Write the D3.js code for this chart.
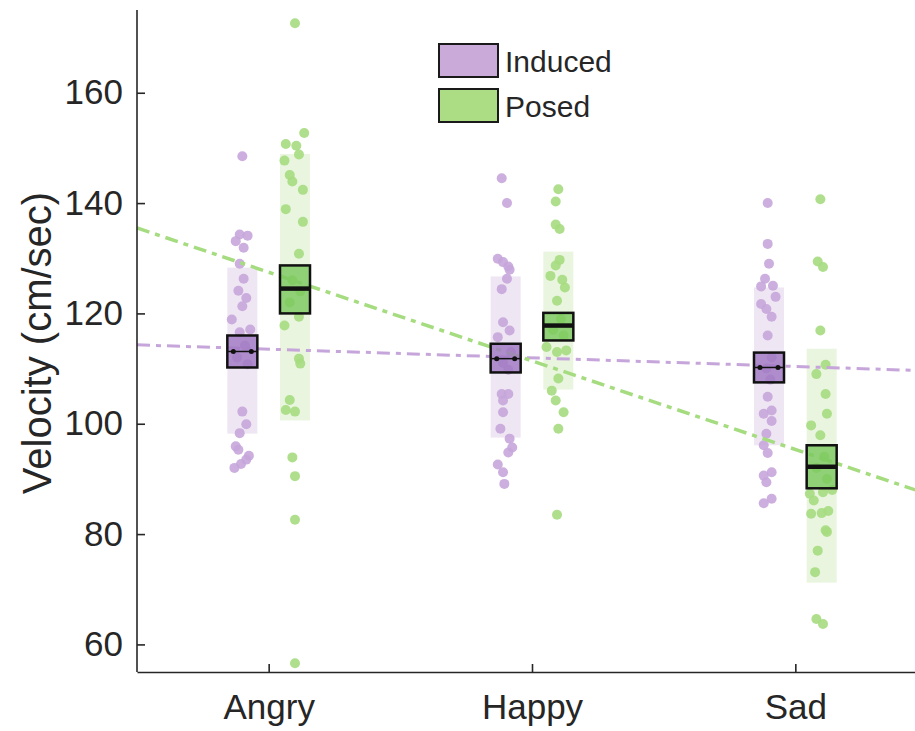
<!DOCTYPE html>
<meta charset="utf-8">
<style>
body { margin: 0; background: #fff; }
text { font-family: "Liberation Sans", Arial, sans-serif; fill: #262626; }
.axis path, .axis line { stroke: #262626; stroke-width: 1.6px; }
</style>
<body>
<script src="https://d3js.org/d3.v7.min.js"></script>
<script>

var categories = ["Angry", "Happy", "Sad"];
var conditions = ["Induced", "Posed"];
var yTicks = [60, 80, 100, 120, 140, 160];

// means, SEM boxes and SD bands per category
var inducedMean = [113.1, 111.8, 110.2];
var inducedSem = [[110.2, 116.0], [109.3, 114.5], [107.5, 112.9]];
var inducedSd = [[98.2, 128.3], [97.5, 126.7], [96.1, 124.7]];
var posedMean = [124.5, 117.8, 92.2];
var posedSem = [[120.0, 128.7], [115.1, 120.1], [88.3, 96.1]];
var posedSd = [[100.6, 148.9], [106.2, 131.2], [71.2, 113.6]];

// linear fits: value at x = 0.5 and x = 3.5
var inducedFit = [114.3, 109.6];
var posedFit = [135.5, 87.3];

// individual points: [jitter, velocity]
var inducedPoints = [
  [[0, 148.5], [-0.01, 134.3], [0.02, 134.1], [-0.025, 133.1], [0.005, 131.9], [-0.01, 129.0],
   [0.005, 126.3], [-0.015, 124.1], [0.015, 122.8], [0, 121.3], [-0.04, 118.9], [0.03, 117.1],
   [-0.01, 116.6], [0.01, 114.2], [-0.02, 112.0], [0.02, 110.8], [0, 102.2], [0.015, 99.9],
   [-0.01, 98.3], [-0.025, 95.9], [-0.015, 95.3], [0.025, 94.2], [0.015, 93.5], [-0.005, 92.7],
   [-0.03, 92.0]],
  [[-0.015, 144.5], [0.005, 140.0], [-0.03, 129.9], [-0.01, 129.3], [0.01, 128.5], [0.015, 127.9],
   [0.005, 126.3], [-0.015, 124.4], [-0.01, 118.4], [0.015, 116.9], [-0.03, 115.7], [0.02, 113.0],
   [-0.01, 111.0], [0.01, 109.8], [-0.015, 105.4], [0.01, 105.4], [-0.01, 104.2], [-0.01, 102.1],
   [-0.02, 99.1], [0.015, 97.3], [0.025, 95.7], [0.01, 94.8], [-0.03, 92.6], [-0.01, 91.2],
   [-0.005, 89.1]],
  [[-0.005, 140.0], [-0.005, 132.6], [0, 129.0], [-0.015, 126.3], [-0.03, 124.9], [0.015, 125.0],
   [0.025, 123.0], [-0.03, 121.7], [-0.01, 120.8], [0.01, 119.4], [-0.005, 116.0], [0.01, 112.0],
   [-0.01, 110.0], [0.005, 108.0], [-0.005, 104.9], [0.01, 102.4], [-0.02, 101.8], [0.01, 100.5],
   [-0.01, 98.2], [-0.02, 96.1], [-0.005, 94.7], [0.01, 91.2], [-0.02, 90.6], [-0.01, 89.4],
   [0.01, 86.4], [-0.02, 85.6]]
];
var posedPoints = [
  [[0, 172.6], [0.035, 152.7], [-0.035, 150.7], [0.005, 150.4], [0.015, 148.8], [-0.04, 147.7],
   [-0.02, 145.1], [-0.01, 143.9], [0.03, 142.4], [-0.035, 138.9], [0.03, 136.6], [0.015, 130.8],
   [-0.01, 126.0], [0.02, 124.0], [-0.02, 122.0], [0.015, 119.4], [-0.04, 117.8], [0.015, 111.8],
   [0.02, 110.9], [-0.02, 104.3], [-0.035, 102.5], [0, 102.2], [-0.01, 93.9], [0, 90.5],
   [0, 82.6], [0, 56.6]],
  [[0, 142.5], [-0.01, 140.3], [-0.01, 136.1], [0.005, 135.3], [0.005, 129.7], [-0.01, 128.7],
   [-0.03, 126.8], [0.015, 126.1], [0.025, 124.7], [-0.005, 122.3], [0.01, 119.0], [-0.02, 117.0],
   [0.02, 116.0], [-0.045, 113.9], [-0.005, 113.0], [0.03, 113.3], [0, 108.2], [-0.025, 106.0],
   [-0.01, 104.2], [0.02, 102.1], [0, 99.1], [-0.005, 83.5]],
  [[-0.005, 140.7], [-0.015, 129.4], [0.005, 128.4], [-0.005, 116.9], [0.015, 110.7], [-0.02, 109.0],
   [0.015, 105.4], [0.02, 101.8], [-0.04, 99.7], [-0.005, 97.9], [0.01, 94.0], [-0.02, 92.0],
   [0.02, 90.0], [0.04, 88.0], [0.005, 87.6], [-0.045, 87.3], [-0.03, 86.1], [0.025, 84.2],
   [0, 83.8], [-0.04, 83.7], [0.015, 80.7], [0.02, 80.4], [-0.015, 77.0], [-0.025, 73.1],
   [-0.02, 64.6], [0.005, 63.7]]
];

var width = 915, height = 731;
var margin = {left: 137, top: 10, bottom: 59};
var offset = 0.1, half = 0.057;

var colors = {
  Induced: {point: "#c6a6da", band: "#efe6f4", box: "#9f77c2", legend: "#c9aad9"},
  Posed: {point: "#a6dc80", band: "#e9f5df", box: "#79c85c", legend: "#acdc84"}
};

var x = d3.scaleLinear().domain([0.5, 3.5]).range([margin.left, 927]);
var y = d3.scaleLinear().domain([55, 175]).range([height - margin.bottom, margin.top]);

var svg = d3.select("body").append("svg")
    .attr("width", width)
    .attr("height", height);

var groups = [
  {name: "Induced", dx: -offset, mean: inducedMean, sem: inducedSem, sd: inducedSd, pts: inducedPoints, fit: inducedFit},
  {name: "Posed", dx: offset, mean: posedMean, sem: posedSem, sd: posedSd, pts: posedPoints, fit: posedFit}
];

// SD bands
groups.forEach(function(g) {
  svg.append("g").selectAll("rect")
      .data(g.sd)
    .enter().append("rect")
      .attr("x", function(d, i) { return x(i + 1 + g.dx - half); })
      .attr("width", x(1 + half) - x(1 - half))
      .attr("y", function(d) { return y(d[1]); })
      .attr("height", function(d) { return y(d[0]) - y(d[1]); })
      .style("fill", colors[g.name].band);
});

// points
groups.forEach(function(g) {
  g.pts.forEach(function(arr, i) {
    svg.append("g").selectAll("circle")
        .data(arr)
      .enter().append("circle")
        .attr("cx", function(d) { return x(i + 1 + g.dx + d[0]); })
        .attr("cy", function(d) { return y(d[1]); })
        .attr("r", 5)
        .style("fill", colors[g.name].point)
        .style("fill-opacity", 0.9);
  });
});

// fit lines
groups.forEach(function(g) {
  svg.append("line")
      .attr("x1", x(0.5)).attr("y1", y(g.fit[0]))
      .attr("x2", x(3.5)).attr("y2", y(g.fit[1]))
      .style("stroke", colors[g.name].point)
      .style("stroke-width", g.name == "Posed" ? 3.5 : 3)
      .style("stroke-dasharray", "13,6,5,6");
});

// SEM boxes and means
groups.forEach(function(g) {
  var bw = x(1 + half) - x(1 - half);
  svg.append("g").selectAll("rect")
      .data(g.sem)
    .enter().append("rect")
      .attr("x", function(d, i) { return x(i + 1 + g.dx - half); })
      .attr("width", bw)
      .attr("y", function(d) { return y(d[1]); })
      .attr("height", function(d) { return y(d[0]) - y(d[1]); })
      .style("fill", colors[g.name].box)
      .style("fill-opacity", 0.8)
      .style("stroke", "#111")
      .style("stroke-width", 2.5);

  svg.append("g").selectAll("line")
      .data(g.mean)
    .enter().append("line")
      .attr("x1", function(d, i) { return x(i + 1 + g.dx - half); })
      .attr("x2", function(d, i) { return x(i + 1 + g.dx + half); })
      .attr("y1", function(d) { return y(d); })
      .attr("y2", function(d) { return y(d); })
      .style("stroke", "#111")
      .style("stroke-width", g.name == "Posed" ? 4.5 : 1.5);

  if (g.name == "Induced") {
    [-0.6, 0.6].forEach(function(f) {
      svg.append("g").selectAll("circle")
          .data(g.mean)
        .enter().append("circle")
          .attr("cx", function(d, i) { return x(i + 1 + g.dx + f * half); })
          .attr("cy", function(d) { return y(d); })
          .attr("r", 2.5)
          .style("fill", "#111");
    });
  }
});

// axes
var yAxis = svg.append("g")
    .attr("class", "axis")
    .attr("transform", "translate(" + margin.left + ",0)")
    .call(d3.axisLeft(y).tickValues(yTicks).tickSizeInner(-8).tickSizeOuter(0).tickPadding(14));
yAxis.select(".domain").attr("d", "M0," + y(55) + "V" + y(175));
yAxis.selectAll("text").style("font-size", "35px").style("fill", "#262626");

var xAxis = svg.append("g")
    .attr("class", "axis")
    .attr("transform", "translate(0," + y(55) + ")")
    .call(d3.axisBottom(x).tickValues([1, 2, 3]).tickFormat(function(d) { return categories[d - 1]; })
      .tickSizeInner(-8).tickSizeOuter(0).tickPadding(22));
xAxis.selectAll("text").style("font-size", "35px").style("fill", "#262626");

svg.append("text")
    .attr("transform", "translate(51," + 343 + ") rotate(-90)")
    .attr("text-anchor", "middle")
    .style("font-size", "40px")
    .text("Velocity (cm/sec)");

// legend
var legend = svg.append("g").attr("transform", "translate(439,44)");
conditions.forEach(function(c, i) {
  legend.append("rect")
      .attr("x", 0).attr("y", i * 45)
      .attr("width", 59).attr("height", 33)
      .style("fill", colors[c].legend)
      .style("stroke", "#1a1a1a")
      .style("stroke-width", 2);
  legend.append("text")
      .attr("x", 66).attr("y", i * 45 + 17)
      .attr("dy", "0.36em")
      .style("font-size", "30px")
      .text(c);
});

</script>
</body>
